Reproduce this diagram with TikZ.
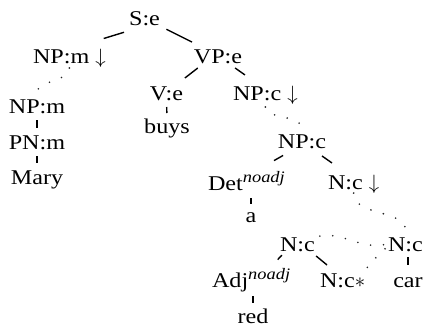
\documentclass[tikz,border=0pt]{standalone}
\usepackage{fontspec}
\setmainfont{Liberation Serif}[FakeStretch=1.15]
\newcommand{\supit}[1]{\textsuperscript{\fontsize{16}{16}\selectfont\itshape #1}}
\begin{document}
\begin{tikzpicture}[x=1pt,y=1pt,
  every node/.style={font=\fontsize{21}{25}\selectfont, inner sep=0pt, outer sep=0pt, text height=14pt, text depth=0pt},
  lbl/.style={anchor=base},
  lblw/.style={anchor=base west},
  edge/.style={line width=1.4pt},
  dotl/.style={line width=1.8pt, line cap=round, dash pattern=on 0pt off 13pt, black!85}]
\useasboundingbox (0,0) rectangle (427,-329);
% nodes
\node[lbl]  (S)    at (144.5,-26) {S:e};
\node[lblw] (npm1) at (33,-63)    {NP:m $\downarrow$};
\node[lbl]  (VP)   at (218,-63)   {VP:e};
\node[lbl]  (V)    at (166.5,-100) {V:e};
\node[lblw] (npc1) at (233,-100)  {NP:c $\downarrow$};
\node[lbl]  (npm2) at (37,-113)   {NP:m};
\node[lbl]  (buys) at (167,-133)  {buys};
\node[lbl]  (pnm)  at (37,-149)   {PN:m};
\node[lbl]  (mary) at (37,-184)   {Mary};
\node[lbl]  (npc2) at (302,-148)  {NP:c};
\node[lblw] (det)  at (208,-190)  {Det\supit{noadj}};
\node[lblw] (ncd)  at (328,-189)  {N:c $\downarrow$};
\node[lbl]  (a)    at (251,-222)  {a};
\node[lblw] (ncl)  at (280,-251)  {N:c};
\node[lblw] (ncr)  at (388,-251)  {N:c};
\node[lblw] (adj)  at (212,-287)  {Adj\supit{noadj}};
\node[lblw] (ncs)  at (320,-287)  {N:c$\ast$};
\node[lbl]  (car)  at (408,-287)  {car};
\node[lbl]  (red)  at (253,-323)  {red};
% solid edges
\draw[edge, shorten <=21.4pt, shorten >=35.9pt] (S.south) -- (npm1.north);
\draw[edge, shorten <=7.3pt, shorten >=15.5pt] (S.south east) -- (VP.150);
\draw[edge, shorten <=8.2pt, shorten >=13.1pt] (VP.207) -- (V.41);
\draw[edge, shorten <=8.7pt, shorten >=19.2pt] (VP.-35) -- (npc1.124);
\draw[edge, shorten <=7pt, shorten >=7pt] (npm2.south) -- (pnm.north);
\draw[edge, shorten <=7pt, shorten >=7pt] (pnm.south) -- (mary.north);
\draw[edge, shorten <=7pt, shorten >=6pt] (V.south) -- (buys.north);
\draw[edge, shorten <=15.2pt, shorten >=31.4pt] (npc2.231) -- (det.north);
\draw[edge, shorten <=13.9pt, shorten >=20.9pt] (npc2.321) -- (ncd.123);
\draw[edge, shorten <=8pt, shorten >=4pt] (det.south -| a) -- (a.north);
\draw[edge, shorten <=5.7pt, shorten >=18.4pt] (ncl.211) -- (adj.27);
\draw[edge, shorten <=7.9pt, shorten >=12.6pt] (ncl.331) -- (ncs.130);
\draw[edge, shorten <=9pt, shorten >=6pt] (adj.south -| red) -- (red.north);
\draw[edge, shorten <=6pt, shorten >=8pt] (ncr.south -| car) -- (car.north);
% dotted links
\draw[dotl, shorten <=5pt, shorten >=6pt] (npm1.south) to[out=-90,in=90] (npm2.north);
\draw[dotl, shorten <=7pt, shorten >=5pt] (npc1.south) to[out=-90,in=90] (npc2.north);
\draw[dotl, shorten <=4pt, shorten >=7pt] (ncd.south) to[out=-90,in=90] (ncr.north);
\draw[dotl, shorten <=5pt, shorten >=4pt] (ncl.north east) to[out=10,in=190] (ncr.west);
\draw[dotl, shorten <=6pt, shorten >=4pt] (ncs.north east) to[out=70,in=240] (ncr.west);
\end{tikzpicture}
\end{document}
